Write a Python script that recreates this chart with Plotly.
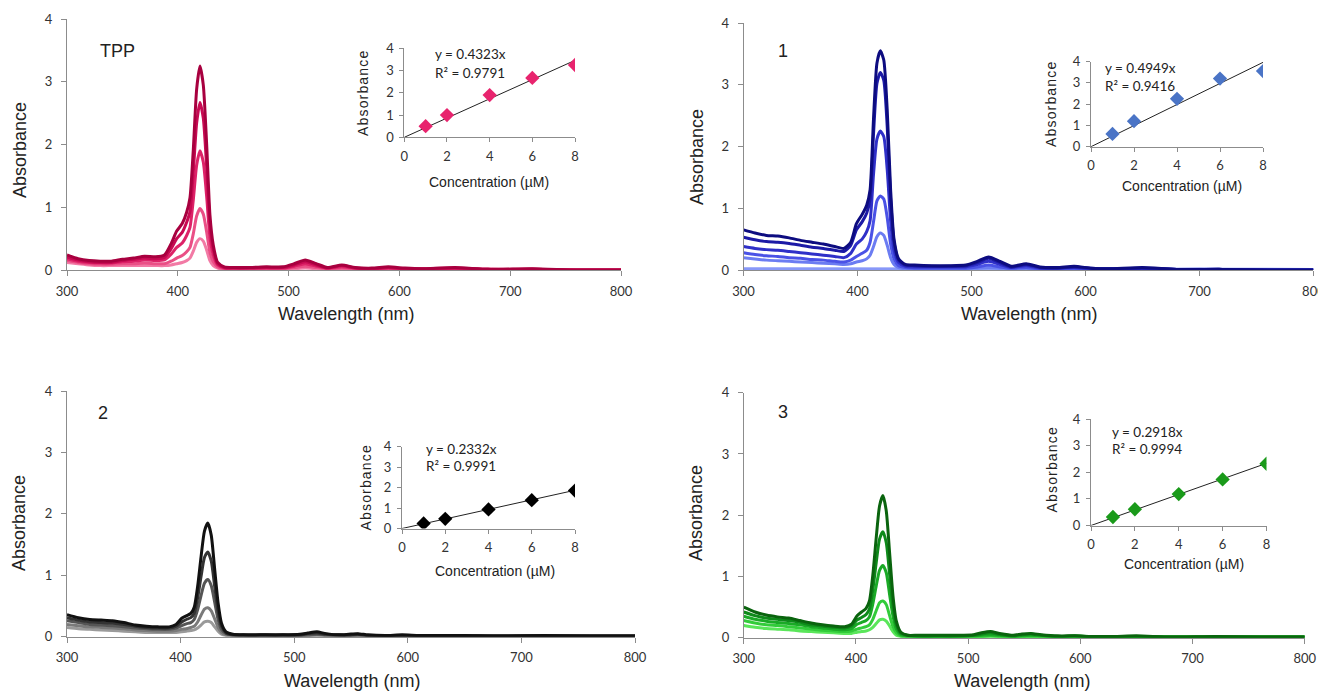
import plotly.graph_objects as go

# browser body has an 8px margin: offset the figure and map page pixels accordingly
OFF = 8
W, H = 1326 - OFF, 693 - OFF

# ---------------- data ----------------
conc = [1, 2, 4, 6, 8]

# inset calibration points (absorbance at Soret max)
abs_tpp = [0.50, 1.00, 1.90, 2.67, 3.25]
abs_1 = [0.60, 1.20, 2.25, 3.20, 3.55]
abs_2 = [0.25, 0.47, 0.93, 1.38, 1.85]
abs_3 = [0.32, 0.61, 1.18, 1.73, 2.32]

slopes = [0.4323, 0.4949, 0.2332, 0.2918]
r2 = ["0.9791", "0.9416", "0.9991", "0.9994"]
panel_names = ["TPP", "1", "2", "3"]

# wavelength grids (nm)
wl_a = [300, 310, 320, 330, 340, 350, 360, 370, 380, 388, 394, 399, 404, 408, 411, 414, 417, 420, 423, 426,
        429, 432, 436, 442, 450, 465, 480, 495, 505, 515, 525, 535, 548, 560, 575, 590, 605, 620, 650, 680,
        720, 760, 800]
wl_b = [300, 310, 320, 330, 340, 350, 360, 370, 380, 390, 396, 401, 405, 409, 412, 415, 418, 421, 424, 427,
        430, 433, 436, 440, 446, 455, 470, 490, 505, 512, 520, 528, 540, 548, 556, 565, 580, 595, 610, 630,
        650, 680, 720, 760, 800]

# TPP spectra (1, 2, 4, 6, 8 uM)
tpp_1 = [0.12, 0.10, 0.08, 0.07, 0.07, 0.07, 0.07, 0.07, 0.07, 0.07, 0.08, 0.10, 0.12, 0.15, 0.19, 0.30, 0.44, 0.50, 0.46, 0.32,
         0.15, 0.07, 0.03, 0.01, 0.01, 0.01, 0.01, 0.01, 0.02, 0.03, 0.02, 0.01, 0.02, 0.01, 0.01, 0.01, 0.01, 0.01, 0.01, 0.00,
         0.00, 0.00, 0.00]
tpp_2 = [0.15, 0.12, 0.10, 0.09, 0.09, 0.10, 0.10, 0.11, 0.10, 0.10, 0.14, 0.19, 0.23, 0.29, 0.36, 0.58, 0.86, 0.98, 0.89, 0.61,
         0.28, 0.13, 0.05, 0.02, 0.02, 0.02, 0.02, 0.02, 0.04, 0.06, 0.04, 0.02, 0.03, 0.02, 0.01, 0.02, 0.01, 0.01, 0.01, 0.01,
         0.01, 0.00, 0.00]
tpp_4 = [0.18, 0.14, 0.12, 0.11, 0.11, 0.13, 0.14, 0.16, 0.15, 0.16, 0.25, 0.36, 0.43, 0.55, 0.68, 1.12, 1.67, 1.90, 1.72, 1.18,
         0.52, 0.24, 0.08, 0.03, 0.03, 0.03, 0.03, 0.03, 0.06, 0.10, 0.06, 0.03, 0.05, 0.03, 0.02, 0.03, 0.02, 0.01, 0.02, 0.01,
         0.01, 0.00, 0.00]
tpp_6 = [0.21, 0.16, 0.13, 0.12, 0.12, 0.15, 0.17, 0.19, 0.18, 0.20, 0.34, 0.50, 0.60, 0.76, 0.93, 1.56, 2.34, 2.67, 2.42, 1.65,
         0.72, 0.33, 0.10, 0.04, 0.03, 0.03, 0.04, 0.04, 0.08, 0.13, 0.08, 0.03, 0.07, 0.03, 0.02, 0.04, 0.02, 0.02, 0.03, 0.01,
         0.01, 0.00, 0.00]
tpp_8 = [0.24, 0.18, 0.15, 0.14, 0.14, 0.17, 0.19, 0.22, 0.21, 0.24, 0.42, 0.62, 0.74, 0.92, 1.15, 1.92, 2.88, 3.25, 2.95, 2.02,
         0.88, 0.40, 0.12, 0.05, 0.04, 0.04, 0.05, 0.05, 0.10, 0.16, 0.10, 0.04, 0.08, 0.04, 0.03, 0.05, 0.03, 0.02, 0.04, 0.01,
         0.02, 0.00, 0.00]

# compound 1 spectra
c1_1 = [0.20, 0.18, 0.16, 0.15, 0.14, 0.13, 0.12, 0.11, 0.10, 0.09, 0.10, 0.13, 0.15, 0.18, 0.24, 0.38, 0.54, 0.60, 0.56, 0.40,
        0.20, 0.09, 0.04, 0.02, 0.02, 0.02, 0.02, 0.02, 0.03, 0.04, 0.03, 0.02, 0.02, 0.01, 0.01, 0.01, 0.01, 0.01, 0.01, 0.01,
        0.00, 0.00, 0.00]
c1_2 = [0.28, 0.25, 0.23, 0.22, 0.20, 0.19, 0.17, 0.16, 0.14, 0.13, 0.16, 0.22, 0.27, 0.32, 0.45, 0.78, 1.12, 1.20, 1.15, 0.85,
        0.42, 0.18, 0.07, 0.04, 0.03, 0.03, 0.03, 0.03, 0.05, 0.08, 0.05, 0.03, 0.04, 0.02, 0.02, 0.02, 0.01, 0.01, 0.01, 0.01,
        0.01, 0.00, 0.00]
c1_4 = [0.38, 0.35, 0.33, 0.32, 0.30, 0.28, 0.26, 0.24, 0.22, 0.20, 0.27, 0.42, 0.50, 0.62, 0.80, 1.55, 2.12, 2.25, 2.16, 1.63,
        0.80, 0.32, 0.12, 0.06, 0.05, 0.05, 0.05, 0.05, 0.09, 0.14, 0.09, 0.04, 0.07, 0.03, 0.03, 0.04, 0.02, 0.02, 0.02, 0.01,
        0.01, 0.00, 0.00]
c1_6 = [0.53, 0.49, 0.46, 0.45, 0.43, 0.40, 0.37, 0.35, 0.32, 0.30, 0.40, 0.65, 0.78, 0.92, 1.15, 2.20, 3.02, 3.20, 3.07, 2.33,
        1.15, 0.45, 0.16, 0.08, 0.07, 0.06, 0.06, 0.07, 0.12, 0.19, 0.12, 0.05, 0.09, 0.04, 0.03, 0.05, 0.03, 0.02, 0.03, 0.01,
        0.01, 0.00, 0.00]
c1_8 = [0.65, 0.60, 0.56, 0.55, 0.52, 0.48, 0.45, 0.42, 0.38, 0.35, 0.45, 0.75, 0.90, 1.05, 1.30, 2.45, 3.35, 3.55, 3.40, 2.60,
        1.30, 0.50, 0.18, 0.09, 0.08, 0.07, 0.07, 0.08, 0.14, 0.21, 0.14, 0.06, 0.10, 0.05, 0.04, 0.06, 0.03, 0.02, 0.04, 0.01,
        0.01, 0.00, 0.00]
wl_blank = [300, 350, 400, 450, 500, 600, 700, 800]
c1_blank = [0.02, 0.02, 0.015, 0.01, 0.01, 0.01, 0.01, 0.01]

# compound 2 spectra
c2_1 = [0.15, 0.13, 0.12, 0.11, 0.10, 0.09, 0.08, 0.07, 0.07, 0.07, 0.07, 0.08, 0.09, 0.10, 0.11, 0.14, 0.19, 0.24, 0.25, 0.23,
        0.16, 0.09, 0.04, 0.02, 0.01, 0.01, 0.01, 0.01, 0.01, 0.01, 0.02, 0.01, 0.01, 0.01, 0.01, 0.01, 0.01, 0.01, 0.01, 0.01,
        0.01, 0.01, 0.01, 0.01, 0.01]
c2_2 = [0.20, 0.18, 0.16, 0.15, 0.14, 0.13, 0.11, 0.10, 0.09, 0.09, 0.10, 0.12, 0.13, 0.15, 0.17, 0.24, 0.35, 0.45, 0.47, 0.42,
        0.29, 0.15, 0.07, 0.03, 0.02, 0.02, 0.02, 0.02, 0.02, 0.02, 0.03, 0.02, 0.01, 0.02, 0.02, 0.01, 0.01, 0.01, 0.01, 0.01,
        0.01, 0.01, 0.01, 0.01, 0.01]
c2_4 = [0.26, 0.23, 0.20, 0.19, 0.18, 0.16, 0.14, 0.13, 0.12, 0.12, 0.14, 0.18, 0.21, 0.23, 0.28, 0.44, 0.67, 0.87, 0.93, 0.83,
        0.56, 0.28, 0.12, 0.05, 0.03, 0.02, 0.02, 0.02, 0.02, 0.03, 0.04, 0.03, 0.02, 0.02, 0.03, 0.02, 0.01, 0.02, 0.01, 0.01,
        0.01, 0.01, 0.01, 0.01, 0.01]
c2_6 = [0.31, 0.27, 0.24, 0.23, 0.22, 0.20, 0.17, 0.15, 0.14, 0.14, 0.17, 0.24, 0.28, 0.31, 0.38, 0.63, 0.98, 1.29, 1.38, 1.23,
        0.82, 0.41, 0.17, 0.06, 0.03, 0.03, 0.03, 0.03, 0.03, 0.05, 0.06, 0.04, 0.03, 0.03, 0.04, 0.02, 0.02, 0.02, 0.02, 0.01,
        0.02, 0.01, 0.01, 0.01, 0.01]
c2_8 = [0.36, 0.31, 0.28, 0.27, 0.26, 0.23, 0.19, 0.17, 0.16, 0.16, 0.20, 0.30, 0.34, 0.38, 0.48, 0.82, 1.30, 1.72, 1.85, 1.65,
        1.10, 0.55, 0.22, 0.08, 0.04, 0.03, 0.03, 0.03, 0.04, 0.06, 0.08, 0.05, 0.03, 0.04, 0.05, 0.03, 0.02, 0.03, 0.02, 0.02,
        0.02, 0.01, 0.02, 0.01, 0.01]

# compound 3 spectra
c3_1 = [0.20, 0.17, 0.15, 0.14, 0.13, 0.11, 0.10, 0.09, 0.08, 0.07, 0.07, 0.09, 0.10, 0.11, 0.13, 0.17, 0.23, 0.29, 0.30, 0.27,
        0.19, 0.10, 0.04, 0.02, 0.01, 0.01, 0.01, 0.01, 0.01, 0.01, 0.02, 0.01, 0.01, 0.01, 0.01, 0.01, 0.01, 0.01, 0.01, 0.01,
        0.01, 0.01, 0.01, 0.01, 0.01]
c3_2 = [0.28, 0.24, 0.21, 0.20, 0.18, 0.16, 0.14, 0.12, 0.11, 0.10, 0.11, 0.14, 0.16, 0.18, 0.21, 0.30, 0.44, 0.57, 0.60, 0.54,
        0.36, 0.18, 0.08, 0.03, 0.02, 0.02, 0.02, 0.02, 0.02, 0.02, 0.03, 0.02, 0.01, 0.02, 0.02, 0.01, 0.01, 0.01, 0.01, 0.01,
        0.01, 0.01, 0.01, 0.01, 0.01]
c3_4 = [0.35, 0.30, 0.27, 0.25, 0.23, 0.21, 0.18, 0.16, 0.14, 0.13, 0.15, 0.22, 0.25, 0.28, 0.34, 0.55, 0.84, 1.10, 1.18, 1.06,
        0.70, 0.35, 0.14, 0.05, 0.03, 0.02, 0.02, 0.02, 0.03, 0.04, 0.05, 0.04, 0.02, 0.03, 0.04, 0.03, 0.02, 0.02, 0.01, 0.01,
        0.02, 0.01, 0.01, 0.01, 0.01]
c3_6 = [0.42, 0.36, 0.32, 0.30, 0.28, 0.25, 0.21, 0.19, 0.17, 0.16, 0.19, 0.29, 0.33, 0.38, 0.47, 0.78, 1.22, 1.61, 1.73, 1.55,
        1.03, 0.51, 0.21, 0.07, 0.04, 0.03, 0.03, 0.03, 0.04, 0.06, 0.08, 0.05, 0.03, 0.05, 0.06, 0.04, 0.02, 0.03, 0.02, 0.02,
        0.02, 0.01, 0.01, 0.01, 0.01]
c3_8 = [0.50, 0.42, 0.37, 0.34, 0.32, 0.28, 0.24, 0.21, 0.19, 0.18, 0.22, 0.36, 0.42, 0.48, 0.60, 1.02, 1.62, 2.15, 2.32, 2.07,
        1.38, 0.68, 0.27, 0.09, 0.04, 0.04, 0.04, 0.04, 0.05, 0.08, 0.10, 0.07, 0.04, 0.06, 0.07, 0.05, 0.03, 0.03, 0.02, 0.02,
        0.03, 0.01, 0.02, 0.01, 0.01]

# colours (lightest -> darkest)
pal_tpp = ["#f27aa5", "#ea4f86", "#dd2368", "#c80a53", "#a8003f"]
pal_1 = ["#6b7cf2", "#4a52e6", "#2f30c8", "#1c1aa6", "#0d0c80"]
pal_2 = ["#9a9a9a", "#7a7a7a", "#555555", "#333333", "#111111"]
pal_3 = ["#5ae65a", "#32cc3a", "#1aaa26", "#0e8a1a", "#0a640e"]
marker_cols = ["#e8246e", "#4a74c6", "#000000", "#1a9a1a"]

# ---------------- layout geometry (pixel boxes in the 1326x693 page) ----------------
def fx(x):
    return (x - OFF) / W

def fy(y):
    return 1 - (y - OFF) / H

main_boxes = [  # x0, x1, y_bottom, y_top  (pixels)
    (67, 621, 270, 19),
    (743.6, 1313.4, 270, 23),
    (67, 635, 636.7, 391),
    (743.8, 1304.7, 637.7, 392.7),
]
inset_boxes = [
    (404.3, 575, 137.3, 48.3),
    (1091, 1263, 146.7, 61.5),
    (402, 575, 528.5, 446.5),
    (1091, 1266.5, 525.5, 419),
]

fig = go.Figure()

spectra = [
    (wl_a, [tpp_1, tpp_2, tpp_4, tpp_6, tpp_8], pal_tpp),
    (wl_a, [c1_1, c1_2, c1_4, c1_6, c1_8], pal_1),
    (wl_b, [c2_1, c2_2, c2_4, c2_6, c2_8], pal_2),
    (wl_b, [c3_1, c3_2, c3_4, c3_6, c3_8], pal_3),
]
insets = [abs_tpp, abs_1, abs_2, abs_3]

axis_col = "#8c8c8c"
tick_font = dict(family="Lato, Liberation Sans, sans-serif", size=13, color="#333333")
inset_tick_font = dict(family="Lato, Liberation Sans, sans-serif", size=13, color="#333333")

for i in range(4):
    xa = "x" if i == 0 else f"x{i+1}"
    ya = "y" if i == 0 else f"y{i+1}"
    wl, curves, pal = spectra[i]
    if i == 1:
        fig.add_trace(go.Scatter(x=wl_blank, y=c1_blank, mode="lines", xaxis=xa, yaxis=ya,
                                 line=dict(color="#8898f8", width=3), showlegend=False))
    for c, col in zip(curves, pal):
        fig.add_trace(go.Scatter(x=wl, y=c, mode="lines", xaxis=xa, yaxis=ya,
                                 line=dict(color=col, width=3, shape="spline", smoothing=0.6),
                                 showlegend=False))
    # inset
    j = i + 5
    xi, yi = f"x{j}", f"y{j}"
    fig.add_trace(go.Scatter(x=[0, conc[-1]], y=[0, slopes[i] * conc[-1]], mode="lines",
                             xaxis=xi, yaxis=yi, line=dict(color="#222222", width=1), showlegend=False))
    fig.add_trace(go.Scatter(x=conc, y=insets[i], mode="markers", xaxis=xi, yaxis=yi,
                             marker=dict(symbol="diamond", size=11, color=marker_cols[i]),
                             showlegend=False))

layout = dict(width=W, height=H, margin=dict(l=0, r=0, t=0, b=0), paper_bgcolor="white",
              plot_bgcolor="rgba(0,0,0,0)", showlegend=False)

for i in range(4):
    x0, x1, yb, yt = main_boxes[i]
    kx = "xaxis" if i == 0 else f"xaxis{i+1}"
    ky = "yaxis" if i == 0 else f"yaxis{i+1}"
    anc_x = "y" if i == 0 else f"y{i+1}"
    anc_y = "x" if i == 0 else f"x{i+1}"
    layout[kx] = dict(domain=[fx(x0), fx(x1)], anchor=anc_x, range=[300, 800], dtick=100, tick0=300,
                      showgrid=False, zeroline=False, showline=True, linecolor=axis_col, linewidth=1,
                      ticks="outside", ticklen=5, tickcolor=axis_col, tickfont=tick_font,
                      ticklabelstandoff=4, automargin=False, fixedrange=True)
    layout[ky] = dict(domain=[fy(yb), fy(yt)], anchor=anc_y, range=[0, 4], dtick=1,
                      showgrid=False, zeroline=False, showline=True, linecolor=axis_col, linewidth=1,
                      ticks="outside", ticklen=5, tickcolor=axis_col, tickfont=tick_font,
                      ticklabelstandoff=6, automargin=False, fixedrange=True)
    x0, x1, yb, yt = inset_boxes[i]
    j = i + 5
    layout[f"xaxis{j}"] = dict(domain=[fx(x0), fx(x1)], anchor=f"y{j}", range=[0, 8], dtick=2,
                               showgrid=False, zeroline=False, showline=True, linecolor=axis_col,
                               ticks="outside", ticklen=4, tickcolor=axis_col, tickfont=inset_tick_font,
                               ticklabelstandoff=3, automargin=False, fixedrange=True)
    layout[f"yaxis{j}"] = dict(domain=[fy(yb), fy(yt)], anchor=f"x{j}", range=[0, 4], dtick=1,
                               showgrid=False, zeroline=False, showline=True, linecolor=axis_col,
                               ticks="outside", ticklen=4, tickcolor=axis_col, tickfont=inset_tick_font,
                               ticklabelstandoff=3, automargin=False, fixedrange=True)

fig.update_layout(**layout)

# ---------------- text ----------------
title_font = dict(family="Liberation Sans, Arial, sans-serif", size=18, color="#222222")
inset_title_font = dict(family="Liberation Sans, Arial, sans-serif", size=14, color="#222222")
eq_font = dict(family="Lato, Liberation Sans, sans-serif", size=13.5, color="#222222")

main_ytitle = [(20, 150), (697, 157), (19, 523), (696, 513)]
main_xtitle = [(345.5, 314), (1029, 314), (351.6, 681), (1021.7, 681)]
panel_lbl = [(117, 51), (783, 51), (103, 413), (783, 412)]
inset_ytitle = [(363, 94), (1051, 105), (365.5, 488), (1051.5, 470)]
inset_xtitle = [(489, 182), (1182, 186), (495, 571), (1184, 564)]
eq_pos = [(433, 54, 72.5), (1103, 67.5, 86), (423.5, 448.5, 466.5), (1110, 431.5, 449)]

ann = []
for i in range(4):
    x, y = main_ytitle[i]
    ann.append(dict(x=fx(x), y=fy(y), xref="paper", yref="paper", text="Absorbance", textangle=-90,
                    showarrow=False, font=title_font, xanchor="center", yanchor="middle"))
    x, y = main_xtitle[i]
    ann.append(dict(x=fx(x), y=fy(y), xref="paper", yref="paper", text="Wavelength (nm)",
                    showarrow=False, font=title_font, xanchor="center", yanchor="middle"))
    x, y = panel_lbl[i]
    ann.append(dict(x=fx(x), y=fy(y), xref="paper", yref="paper", text=panel_names[i],
                    showarrow=False, font=title_font, xanchor="center", yanchor="middle"))
    x, y = inset_ytitle[i]
    ann.append(dict(x=fx(x), y=fy(y), xref="paper", yref="paper", text="\u200a".join("Absorbance"),
                    textangle=-90, showarrow=False, font=inset_title_font, xanchor="center", yanchor="middle"))
    x, y = inset_xtitle[i]
    ann.append(dict(x=fx(x), y=fy(y), xref="paper", yref="paper", text="Concentration (\u00b5M)",
                    showarrow=False, font=inset_title_font, xanchor="center", yanchor="middle"))
    x, y1, y2 = eq_pos[i]
    ann.append(dict(x=fx(x), y=fy(y1), xref="paper", yref="paper", text=f"y = {slopes[i]:.4f}x",
                    showarrow=False, font=eq_font, xanchor="left", yanchor="middle"))
    ann.append(dict(x=fx(x), y=fy(y2), xref="paper", yref="paper", text=f"R\u00b2 = {r2[i]}",
                    showarrow=False, font=eq_font, xanchor="left", yanchor="middle"))

fig.update_layout(annotations=ann)

fig.write_html("out.html")
